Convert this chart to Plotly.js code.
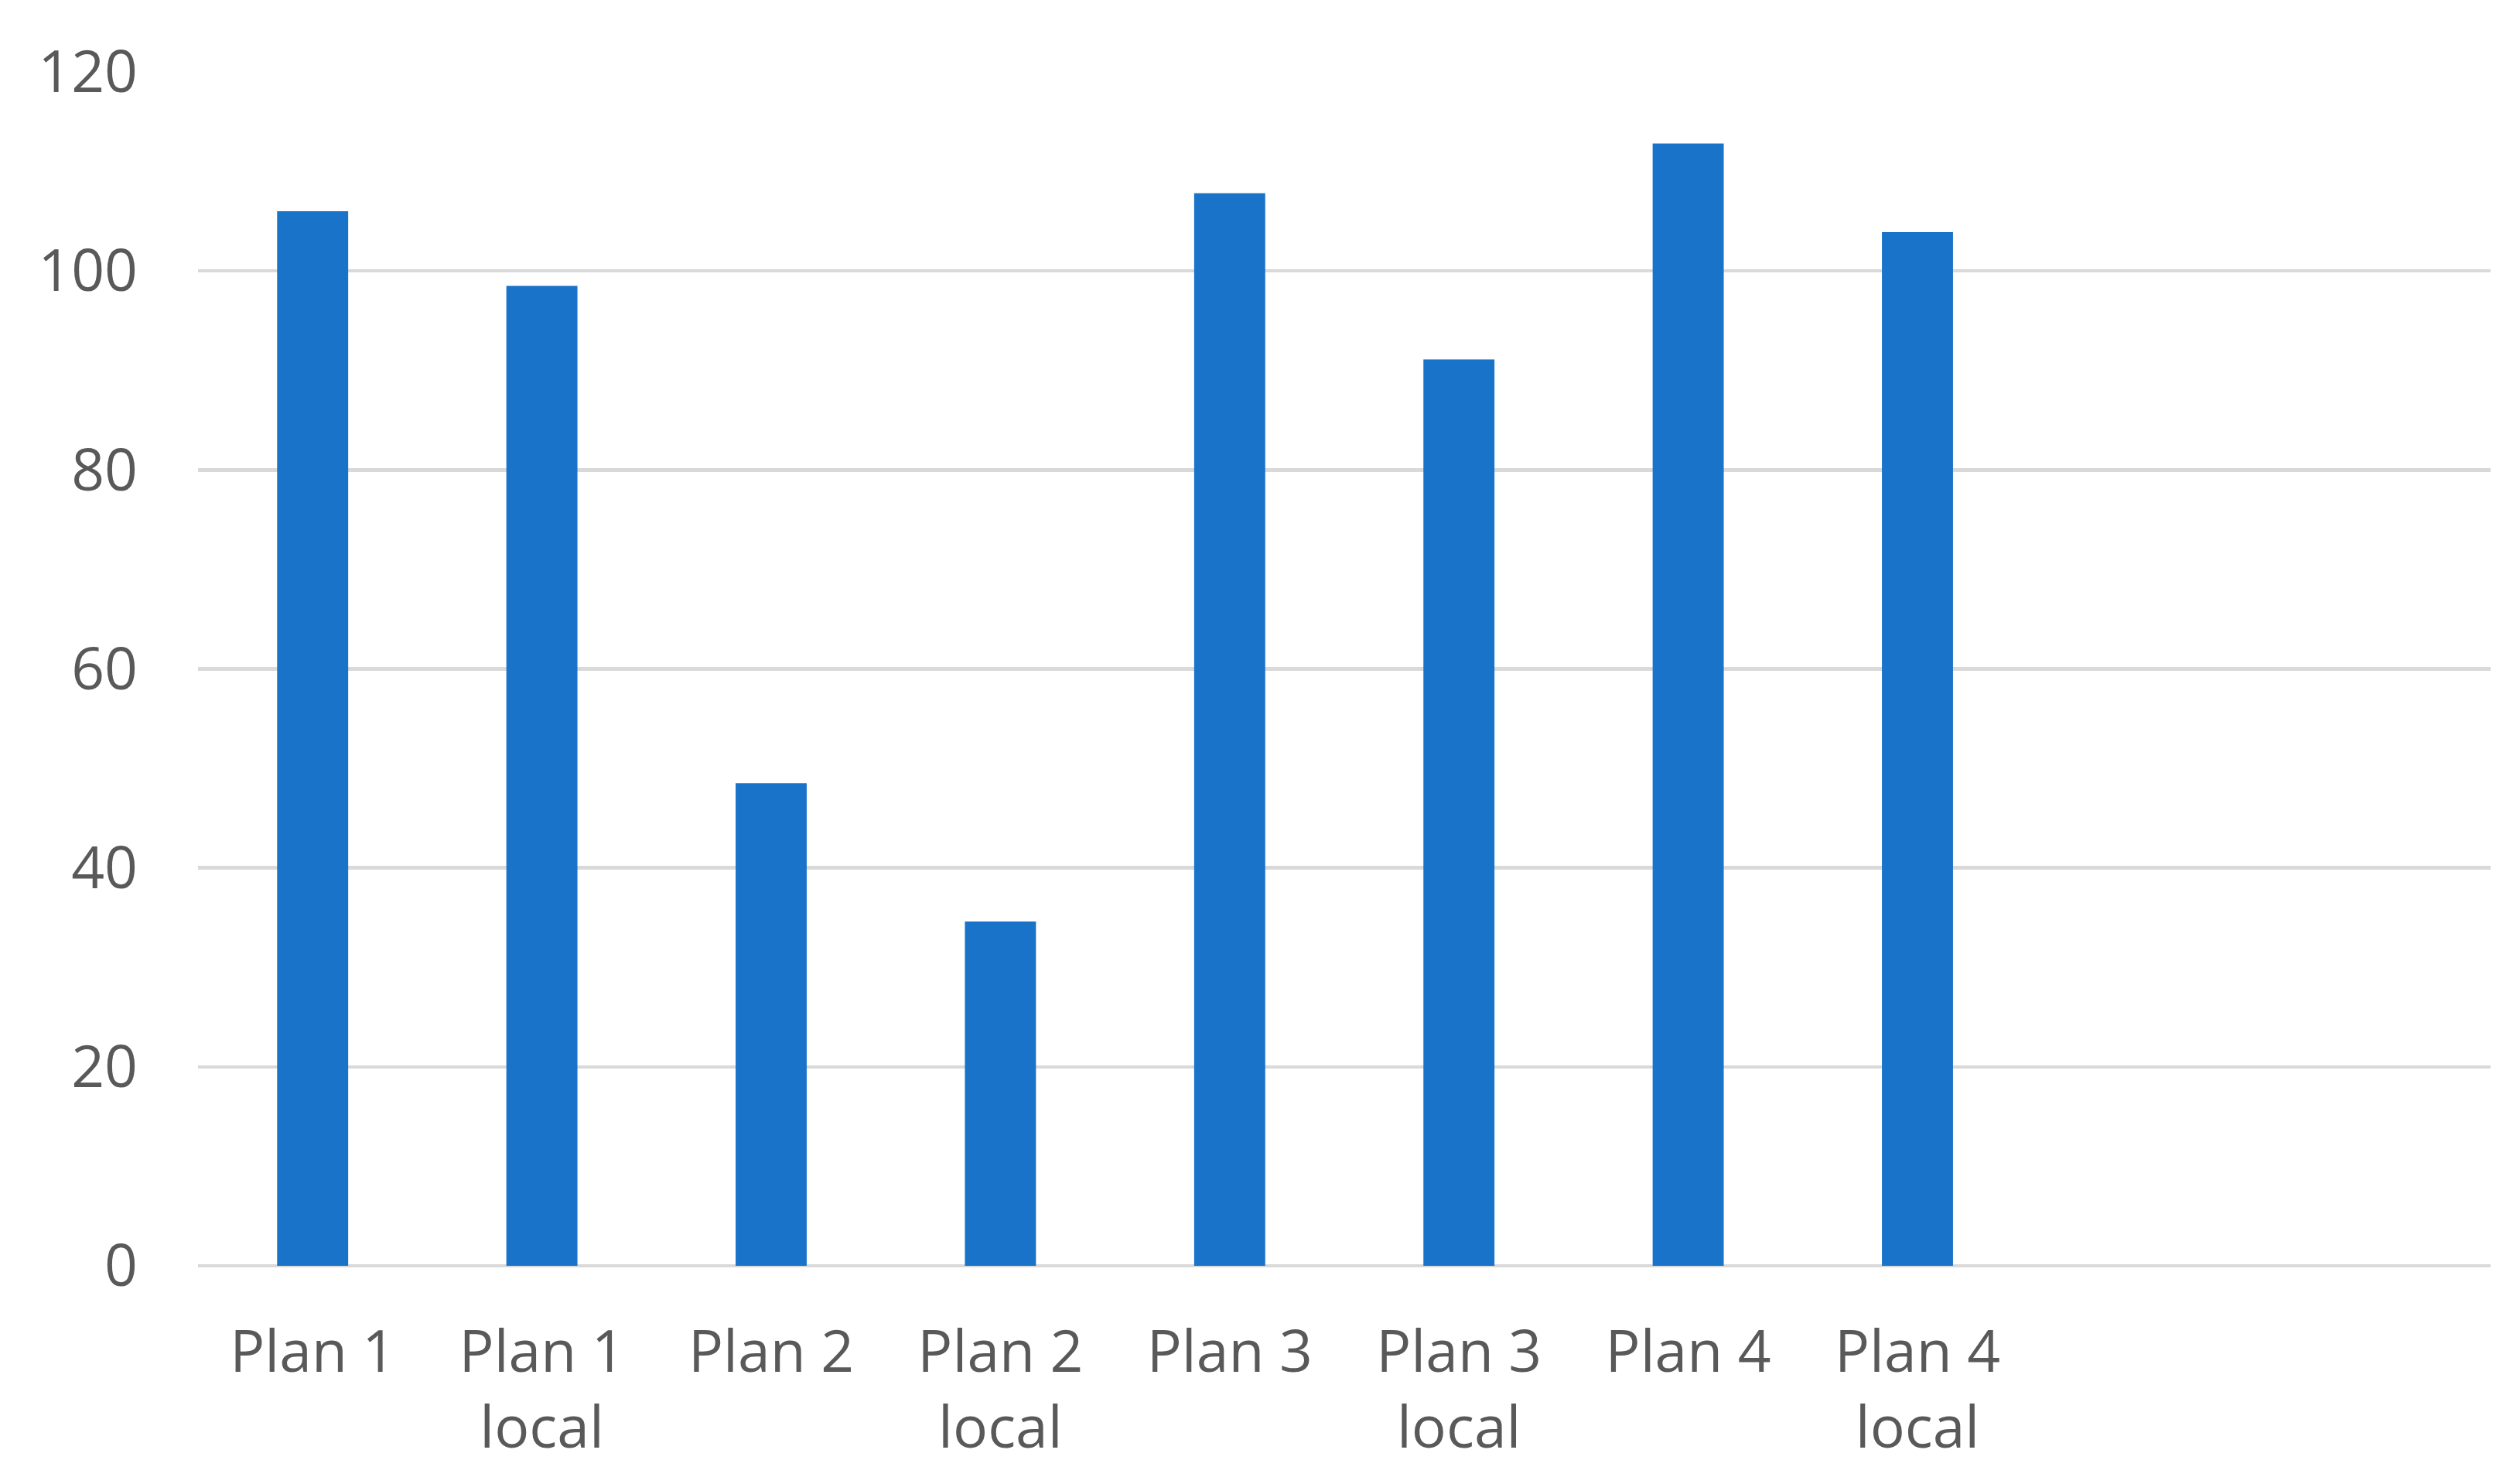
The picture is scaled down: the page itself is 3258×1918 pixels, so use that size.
<!DOCTYPE html>
<html>
<head>
<meta charset="utf-8">
<script src="https://cdn.plot.ly/plotly-3.0.1.min.js"></script>
<style>html,body{margin:0;padding:0;background:#fff;}#chart{width:3258px;height:1918px;}</style>
</head>
<body>
<div id="chart"></div>
<script>
const categories = ["Plan 1", "Plan 1<br>local", "Plan 2", "Plan 2<br>local", "Plan 3", "Plan 3<br>local", "Plan 4", "Plan 4<br>local"];
const values = [106, 98.5, 48.5, 34.6, 107.8, 91.1, 112.8, 103.9];
const yTicks = [0, 20, 40, 60, 80, 100, 120];

const trace = {
  type: "bar",
  x: categories,
  y: values,
  width: 0.31,
  marker: {color: "#1873C9", line: {width: 0}},
  hoverinfo: "x+y"
};

const layout = {
  width: 3258,
  height: 1918,
  margin: {l: 256, r: 38, t: 93, b: 282, pad: 0},
  paper_bgcolor: "#ffffff",
  plot_bgcolor: "#ffffff",
  showlegend: false,
  font: {family: "Open Sans, Liberation Sans, sans-serif", size: 75, color: "#595959"},
  xaxis: {
    type: "category",
    categoryorder: "array",
    categoryarray: categories,
    range: [-0.5, 9.5],
    showgrid: false,
    zeroline: false,
    showline: false,
    ticks: "",
    ticklabelstandoff: 61,
    tickfont: {family: "Open Sans, Liberation Sans, sans-serif", size: 75, color: "#595959"},
    fixedrange: true
  },
  yaxis: {
    range: [0, 120],
    tickvals: yTicks,
    ticktext: yTicks.map(String),
    showgrid: true,
    gridcolor: "#d9d9d9",
    gridwidth: 4.5,
    zeroline: true,
    zerolinecolor: "#d9d9d9",
    zerolinewidth: 4.5,
    showline: false,
    ticks: "",
    ticklabelstandoff: 77,
    tickfont: {family: "Open Sans, Liberation Sans, sans-serif", size: 75, color: "#595959"},
    fixedrange: true
  },
  bargap: 0.69
};

Plotly.newPlot("chart", [trace], layout, {displayModeBar: false, staticPlot: true});
</script>
</body>
</html>
